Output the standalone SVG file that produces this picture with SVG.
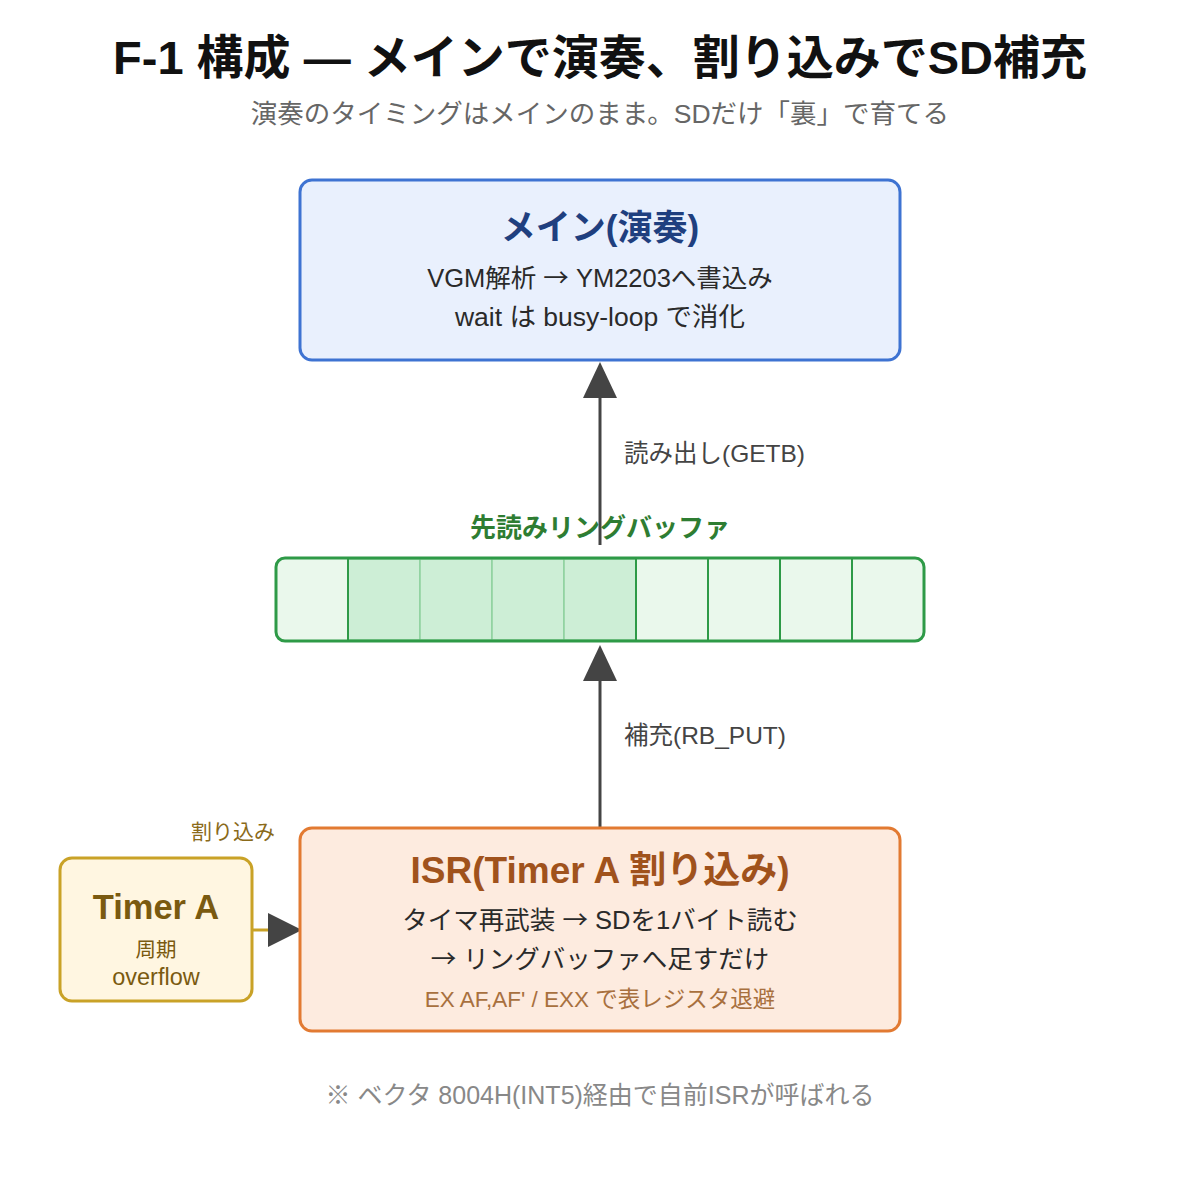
<svg xmlns="http://www.w3.org/2000/svg" width="1200" height="1200" viewBox="0 0 1200 1200">
<defs>
<style>
text{font-family:"Liberation Sans","Noto Sans CJK JP",sans-serif;}
.ar{font-family:"Noto Sans CJK JP",sans-serif;}
.title{font-size:47px;font-weight:bold;fill:#111;}
.sub{font-size:26.5px;fill:#666;}
.box{stroke-width:3;}
.t-main{font-size:35px;font-weight:bold;fill:#1f3f7f;}
.body{font-size:25.5px;fill:#2a2a2a;}
.lbl{font-size:24.5px;fill:#444;}
.conn{stroke:#444;stroke-width:3;fill:none;}
.cell{stroke:#2e9a47;stroke-width:2;}
.cellf{fill:#cdeed6;stroke:#8fd19e;stroke-width:1.5;}
</style>
</defs>
<rect width="1200" height="1200" fill="#fff"/>
<text class="title" x="600" y="74" text-anchor="middle">F-1 構成 — メインで演奏、割り込みでSD補充</text>
<text class="sub" x="600" y="123" text-anchor="middle">演奏のタイミングはメインのまま。SDだけ「裏」で育てる</text>

<g id="connectors">
<line class="conn" x1="600" y1="545" x2="600" y2="396"/>
<path d="M600,362L617,398L583,398Z" fill="#444"/>
<text class="lbl" x="624" y="462">読み出し(GETB)</text>
<line class="conn" x1="600" y1="827" x2="600" y2="678"/>
<path d="M600,645L617,681L583,681Z" fill="#444"/>
<text class="lbl" x="624" y="744">補充(RB_PUT)</text>
<line x1="252" y1="930" x2="270" y2="930" stroke="#c9a227" stroke-width="3"/>
<path d="M302,930L268,913L268,947Z" fill="#444"/>
<text x="233" y="839" text-anchor="middle" style="font-size:21px;fill:#8a6a1a">割り込み</text>
</g>

<g id="main">
<rect class="box" x="300" y="180" width="600" height="180" rx="12" fill="#e9f0fd" stroke="#3e73d2"/>
<text class="t-main" x="600" y="240" text-anchor="middle">メイン(演奏)</text>
<text class="body" x="600" y="287" text-anchor="middle">VGM解析 <tspan class="ar">→</tspan> YM2203へ書込み</text>
<text class="body" x="600" y="326" text-anchor="middle" style="font-size:26.5px">wait は busy-loop で消化</text>
</g>

<g id="ringbuffer">
<text x="600" y="537" text-anchor="middle" style="font-size:26px;font-weight:bold;fill:#2e7d32">先読みリングバッファ</text>
<rect x="276" y="558" width="648" height="83" rx="9" fill="#eaf8ec"/>
<rect class="cellf" x="348" y="559" width="72" height="81"/>
<rect class="cellf" x="420" y="559" width="72" height="81"/>
<rect class="cellf" x="492" y="559" width="72" height="81"/>
<rect class="cellf" x="564" y="559" width="72" height="81"/>
<line class="cell" x1="348" y1="558" x2="348" y2="641"/>
<line class="cell" x1="636" y1="558" x2="636" y2="641"/>
<line class="cell" x1="708" y1="558" x2="708" y2="641"/>
<line class="cell" x1="780" y1="558" x2="780" y2="641"/>
<line class="cell" x1="852" y1="558" x2="852" y2="641"/>
<rect x="276" y="558" width="648" height="83" rx="9" fill="none" stroke="#2e9a47" stroke-width="3"/>
</g>

<g id="timerA">
<rect class="box" x="60" y="858" width="192" height="143" rx="12" fill="#fff6e1" stroke="#c9a227"/>
<text x="156" y="919" text-anchor="middle" style="font-size:34.5px;font-weight:bold;fill:#7a5a10">Timer A</text>
<text x="156" y="957" text-anchor="middle" style="font-size:20.5px;fill:#7a5a10">周期</text>
<text x="156" y="985" text-anchor="middle" style="font-size:23.5px;fill:#7a5a10">overflow</text>
</g>

<g id="isr">
<rect class="box" x="300" y="828" width="600" height="203" rx="12" fill="#fdebdf" stroke="#e27a32"/>
<text x="600" y="883" text-anchor="middle" style="font-size:37px;font-weight:bold;fill:#a0521c">ISR(Timer A 割り込み)</text>
<text class="body" x="600" y="929" text-anchor="middle">タイマ再武装 <tspan class="ar">→</tspan> SDを1バイト読む</text>
<text class="body" x="600" y="968" text-anchor="middle"><tspan class="ar">→</tspan> リングバッファへ足すだけ</text>
<text x="600" y="1007" text-anchor="middle" style="font-size:22.5px;fill:#a8703e">EX AF,AF' / EXX で表レジスタ退避</text>
</g>

<text x="600" y="1104" text-anchor="middle" style="font-size:25px;fill:#888">※ ベクタ 8004H(INT5)経由で自前ISRが呼ばれる</text>
</svg>
